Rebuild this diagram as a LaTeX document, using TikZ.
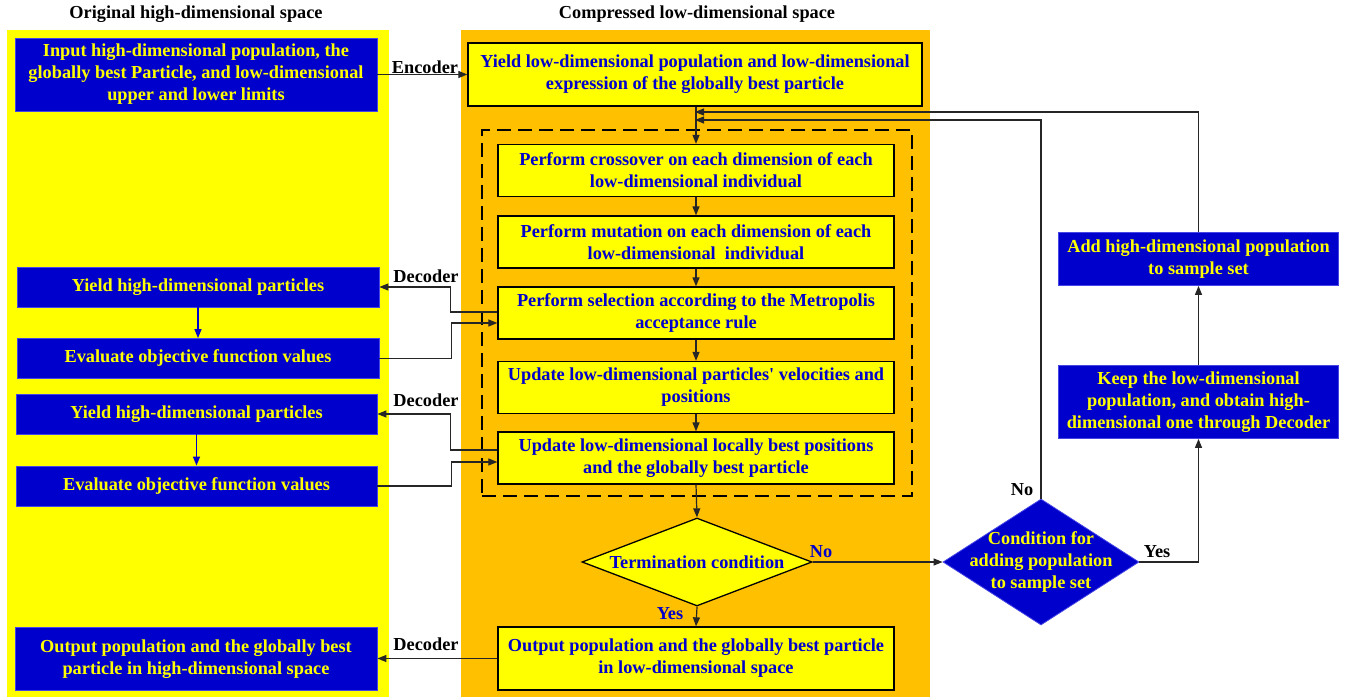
\documentclass[tikz,border=0pt]{standalone}
\usepackage{fontspec}
\setmainfont{Liberation Serif}
\usetikzlibrary{arrows.meta,shapes.geometric}
\definecolor{yel}{RGB}{255,255,0}
\definecolor{org}{RGB}{255,192,0}
\definecolor{bl}{RGB}{0,0,204}
\definecolor{bledge}{RGB}{70,70,230}
\tikzset{
  txt/.style={font=\bfseries\fontsize{18.3}{22}\selectfont, align=center},
  ybox/.style={txt, draw=black, line width=1.3pt, fill=yel, text=bl, inner sep=0pt},
  bbox/.style={txt, draw=bledge, line width=0.8pt, fill=bl, text=yel, inner sep=0pt},
  cbox/.style={ybox, minimum width=396, minimum height=52},
  conn/.style={line width=1.2pt, draw=black!85, -{Triangle[length=9pt,width=7pt]}},
  bconn/.style={line width=1.2pt, draw=bl, -{Triangle[length=9pt,width=7pt]}},
  lbl/.style={txt, text=black},
  blbl/.style={txt, text=bl},
}
\begin{document}
\begin{tikzpicture}[x=1pt,y=-1pt]
\useasboundingbox (0,0) rectangle (1351,700);
% panels
\fill[yel] (7,30) rectangle (389,697);
\fill[org] (461,30) rectangle (930,697);
\node[lbl] (t1) at (196,14) {Original high-dimensional space};
\node[lbl] (t2) at (697,14) {Compressed low-dimensional space};
% dashed group
\node[draw=black, dashed, dash pattern=on 14pt off 7pt, line width=2pt, minimum width=430, minimum height=366, inner sep=0pt] (grp) at (697,313) {};
% left column
\node[bbox, minimum width=362, minimum height=73] (a) at (196,74.5) {Input high-dimensional population, the\\globally best Particle, and low-dimensional\\upper and lower limits};
\node[bbox, minimum width=362, minimum height=40] (l1) at (198,287) {Yield high-dimensional particles};
\node[bbox, minimum width=362, minimum height=40] (l2) at (198,358.5) {Evaluate objective function values};
\node[bbox, minimum width=361, minimum height=40] (l3) at (196.5,414) {Yield high-dimensional particles};
\node[bbox, minimum width=361, minimum height=40] (l4) at (196.5,486) {Evaluate objective function values};
\node[bbox, minimum width=362, minimum height=63] (l5) at (196,659) {Output population and the globally best\\particle in high-dimensional space};
% middle column
\node[ybox, minimum width=454, minimum height=63] (b) at (695,74.5) {Yield low-dimensional population and low-dimensional\\expression of the globally best particle};
\node[cbox] (c1) at (696,170.5) {Perform crossover on each dimension of each\\low-dimensional individual};
\node[cbox] (c2) at (696,242) {Perform mutation on each dimension of each\\low-dimensional\ \ individual};
\node[cbox] (c3) at (696,313) {Perform selection according to the Metropolis\\acceptance rule};
\node[cbox] (c4) at (696,387.5) {Update low-dimensional particles\textquotesingle{} velocities and\\positions};
\node[cbox] (c5) at (696,458) {Update low-dimensional locally best positions\\and the globally best particle};
\node[diamond, draw=black, line width=1.3pt, fill=yel, minimum width=230, minimum height=88, inner sep=0pt] (d1) at (697,562) {};
\node[blbl] (d1t) at (697,562) {Termination condition};
\node[cbox, minimum height=63] (o1) at (696,658.5) {Output population and the globally best particle\\in low-dimensional space};
% right column
\node[diamond, fill=bl, draw=bledge, line width=0.8pt, minimum width=196, minimum height=126, inner sep=0pt] (d2) at (1041,562) {};
\node[txt, text=yel] (d2t) at (1041,562) {Condition for\\adding population\\to sample set};
\node[bbox, minimum width=280, minimum height=73] (r2) at (1198.5,402) {Keep the low-dimensional\\population, and obtain high-\\dimensional one through Decoder};
\node[bbox, minimum width=280, minimum height=53] (r1) at (1198.5,259) {Add high-dimensional population\\to sample set};
% coordinates for merges
\coordinate (m1) at (695,112);
\coordinate (m2) at (695,120);
% connectors
\draw[conn] (a.east) -- (a.east -| b.west);
\node[lbl] (enc) at (425,67) {Encoder};
\draw[conn] (b.south -| c1.north) -- (c1.north);
\draw[conn] (c1) -- (c2);
\draw[conn] (c2) -- (c3);
\draw[conn] (c3) -- (c4);
\draw[conn] (c4) -- (c5);
\draw[conn] (c5.south) -- (d1.north);
\draw[conn] (d1.south) -- (o1.north);
\node[blbl] (yes1) at (670,614) {Yes};
\draw[conn] (d1.east) -- (d2.west);
\node[blbl] (no1) at (821,552) {No};
\draw[conn] (d2.north) |- (m2);
\node[lbl] (no2) at (1022,490) {No};
\draw[conn] (d2.east) -| (r2.south);
\node[lbl] (yes2) at (1157,552) {Yes};
\draw[conn] (r2.north) -- (r1.south);
\draw[conn] (r1.north) |- (m1);
% decoder links
\draw[conn] ([yshift=1pt]c3.west) -- ++(-47,0) |- (l1.east);
\node[lbl] (dec1) at (426,276) {Decoder};
\draw[conn] (l2.east) -- ++(72,0) |- ([yshift=-10pt]c3.west);
\draw[conn] ([yshift=8pt]c5.west) -- ++(-47,0) |- (l3.east);
\node[lbl] (dec2) at (426,400) {Decoder};
\draw[conn] (l4.east) -- ++(74,0) |- ([yshift=-4pt]c5.west);
\draw[conn] (o1.west) -- (o1.west -| l5.east);
\node[lbl] (dec3) at (426,644) {Decoder};
% left internal arrows
\draw[bconn] (l1.south) -- (l2.north);
\draw[bconn] (l3.south) -- (l4.north);
\end{tikzpicture}
\end{document}
